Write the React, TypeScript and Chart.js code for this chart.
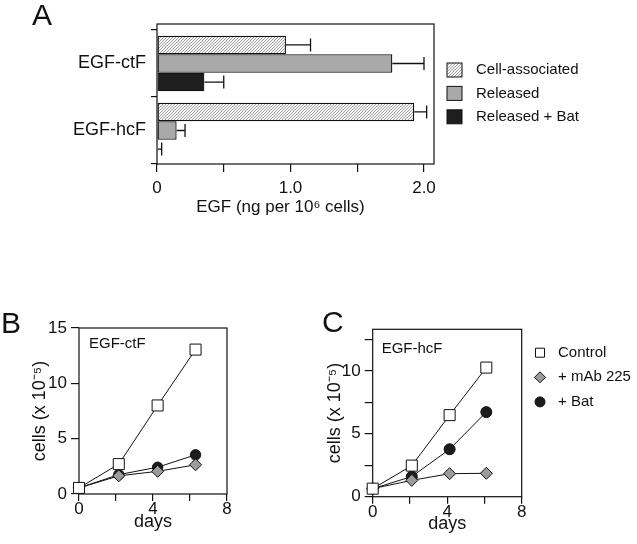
import { useEffect, useRef } from 'react';
import { Chart, registerables } from 'chart.js';

Chart.register(...registerables);

const FONT = "'Liberation Sans', Arial, Helvetica, sans-serif";
const INK = '#111111';

// ---------- Panel A : EGF (ng per 10^6 cells) ----------
const aCategories = ['EGF-ctF', 'EGF-hcF'];
const aSeries = ['Cell-associated', 'Released', 'Released + Bat'];
const aCellAssoc = [0.966, 1.927];
const aCellAssocErr = [1.15, 2.02];
const aReleased = [1.763, 0.147];
const aReleasedErr = [2.0, 0.21];
const aReleasedBat = [0.355, 0.006];
const aReleasedBatErr = [0.5, 0.035];
const aXTickLabels = ['0', '', '1.0', '', '2.0'];
const aXTitle = 'EGF (ng per 10\u2076 cells)';

// ---------- Panels B and C : cells (x 10^-5) vs days ----------
const growthSeries = ['Control', '+ mAb 225', '+ Bat'];
const bDays = [0, 2.15, 4.25, 6.3];
const bControl = [0.55, 2.7, 8.0, 13.05];
const bMab = [0.55, 1.64, 2.05, 2.64];
const bBat = [0.55, 1.75, 2.42, 3.54];
const cDays = [0, 2.1, 4.13, 6.1];
const cControl = [0.64, 2.47, 6.48, 10.26];
const cMab = [0.64, 1.3, 1.83, 1.86];
const cBat = [0.64, 1.6, 3.77, 6.72];
const dayTickLabels = ['0', '', '4', '', '8'];
const bYTickLabels = ['0', '5', '10', '15'];
const cYTickLabels = ['0', '', '5', '', '10', ''];
const growthYTitle = 'cells (x 10\u207B\u2075)';
const growthXTitle = 'days';

function hatchPattern(): any {
  const c = document.createElement('canvas');
  c.width = 3;
  c.height = 3;
  const g = c.getContext('2d')!;
  g.fillStyle = '#f4f4f4';
  g.fillRect(0, 0, 3, 3);
  g.strokeStyle = '#a4a4a4';
  g.lineWidth = 1;
  g.beginPath();
  g.moveTo(-1, 4); g.lineTo(4, -1);
  g.moveTo(-1, 1); g.lineTo(1, -1);
  g.moveTo(2, 4); g.lineTo(4, 2);
  g.stroke();
  return g.createPattern(c, 'repeat');
}

function makeFrame(extraTop: number) {
  return {
    id: 'frame',
    beforeDatasetsDraw(chart: any) {
      const { ctx, chartArea: a } = chart;
      ctx.save();
      ctx.strokeStyle = INK;
      ctx.lineWidth = 1.2;
      ctx.strokeRect(a.left, a.top - extraTop, a.right - a.left, a.bottom - a.top + extraTop);
      ctx.restore();
    },
  };
}

type TextItem = { text: string; x: number; y: number; size: number; align?: CanvasTextAlign; baseline?: CanvasTextBaseline };
function makeTexts(items: TextItem[]) {
  return {
    id: 'texts',
    afterDraw(chart: any) {
      const { ctx } = chart;
      ctx.save();
      ctx.fillStyle = INK;
      items.forEach((t) => {
        ctx.font = `${t.size}px ${FONT}`;
        ctx.textAlign = t.align || 'left';
        ctx.textBaseline = t.baseline || 'middle';
        ctx.fillText(t.text, t.x, t.y);
      });
      ctx.restore();
    },
  };
}

function makeErrorBars(errs: number[][]) {
  return {
    id: 'errorBars',
    afterDatasetsDraw(chart: any) {
      const { ctx } = chart;
      const xs = chart.scales.x;
      ctx.save();
      ctx.strokeStyle = INK;
      ctx.lineWidth = 1.3;
      chart.data.datasets.forEach((_ds: any, i: number) => {
        const meta = chart.getDatasetMeta(i);
        meta.data.forEach((el: any, j: number) => {
          const x0 = el.x;
          const y = el.y;
          const x1 = xs.getPixelForValue(errs[i][j]);
          const h = el.height * 0.7;
          ctx.beginPath();
          ctx.moveTo(x0, y);
          ctx.lineTo(x1, y);
          ctx.moveTo(x1, y - h / 2);
          ctx.lineTo(x1, y + h / 2);
          ctx.stroke();
        });
      });
      ctx.restore();
    },
  };
}

function makeBarLegend(x: number, y0: number, dy: number, bw: number, bh: number, textX: number) {
  return {
    id: 'barLegend',
    afterDraw(chart: any) {
      const { ctx } = chart;
      ctx.save();
      chart.data.datasets.forEach((ds: any, i: number) => {
        const cy = y0 + i * dy;
        ctx.fillStyle = ds.backgroundColor;
        ctx.fillRect(x, cy - bh / 2, bw, bh);
        ctx.strokeStyle = INK;
        ctx.lineWidth = 1;
        ctx.strokeRect(x, cy - bh / 2, bw, bh);
        ctx.fillStyle = INK;
        ctx.font = `15px ${FONT}`;
        ctx.textAlign = 'left';
        ctx.textBaseline = 'middle';
        ctx.fillText(ds.label, textX, cy);
      });
      ctx.restore();
    },
  };
}

function makePointLegend(x: number, y0: number, dy: number, textX: number) {
  return {
    id: 'pointLegend',
    afterDraw(chart: any) {
      const { ctx } = chart;
      ctx.save();
      chart.data.datasets.forEach((ds: any, i: number) => {
        const cy = y0 + i * dy;
        ctx.fillStyle = ds.pointBackgroundColor;
        ctx.strokeStyle = INK;
        ctx.lineWidth = 1;
        ctx.beginPath();
        if (ds.pointStyle === 'rect') {
          ctx.rect(x - 4.5, cy - 4.5, 9, 9);
        } else if (ds.pointStyle === 'rectRot') {
          ctx.moveTo(x, cy - 5.5);
          ctx.lineTo(x + 5.5, cy);
          ctx.lineTo(x, cy + 5.5);
          ctx.lineTo(x - 5.5, cy);
          ctx.closePath();
        } else {
          ctx.arc(x, cy, 5, 0, Math.PI * 2);
        }
        ctx.fill();
        ctx.stroke();
        ctx.fillStyle = INK;
        ctx.font = `15px ${FONT}`;
        ctx.textAlign = 'left';
        ctx.textBaseline = 'middle';
        ctx.fillText(ds.label, textX, cy);
      });
      ctx.restore();
    },
  };
}

function growthDatasets(days: number[], ctl: number[], mab: number[], bat: number[], sq: number, dia: number, cir: number) {
  const pts = (vals: number[]) => days.map((d, i) => ({ x: d, y: vals[i] }));
  const common = { borderColor: INK, borderWidth: 1, tension: 0, clip: false as any, pointBorderColor: INK, pointBorderWidth: 1 };
  return [
    { ...common, label: growthSeries[0], data: pts(ctl), pointStyle: 'rect', pointRadius: sq, pointBackgroundColor: '#ffffff' },
    { ...common, label: growthSeries[1], data: pts(mab), pointStyle: 'rectRot', pointRadius: dia, pointBackgroundColor: '#9b9b9b' },
    { ...common, label: growthSeries[2], data: pts(bat), pointStyle: 'circle', pointRadius: cir, pointBackgroundColor: '#1c1c1c' },
  ];
}

function growthOptions(o: { padTop: number; padRight: number; yWidth: number; xHeight: number; yMax: number; yStep: number; yLabels: string[]; yTitlePad: number; xTitlePad: number }) {
  const tickFont = { family: FONT, size: 17 };
  const titleFont = { family: FONT, size: 18 };
  return {
    responsive: false,
    animation: false,
    events: [],
    layout: { padding: { top: o.padTop, right: o.padRight, left: 0, bottom: 0 } },
    plugins: { legend: { display: false }, tooltip: { enabled: false } },
    scales: {
      x: {
        type: 'linear',
        min: 0,
        max: 8,
        afterFit: (s: any) => { s.height = o.xHeight; },
        border: { display: false },
        grid: { drawOnChartArea: false, drawTicks: true, tickLength: 7, color: INK, lineWidth: 1.2 },
        ticks: { stepSize: 2, autoSkip: false, maxRotation: 0, padding: 0, color: INK, font: { ...tickFont, lineHeight: 1 }, callback: (_v: any, i: number) => dayTickLabels[i] ?? '' },
        title: { display: true, text: growthXTitle, color: INK, font: titleFont, padding: { top: 0, bottom: o.xTitlePad } },
      },
      y: {
        type: 'linear',
        min: 0,
        max: o.yMax,
        afterFit: (s: any) => { s.width = o.yWidth; },
        border: { display: false },
        grid: { drawOnChartArea: false, drawTicks: true, tickLength: 8, color: INK, lineWidth: 1.2 },
        ticks: { stepSize: o.yStep, includeBounds: false, autoSkip: false, padding: 4, color: INK, font: tickFont, callback: (_v: any, i: number) => o.yLabels[i] ?? '' },
        title: { display: true, text: growthYTitle, color: INK, font: titleFont, padding: { top: o.yTitlePad, bottom: 0 } },
      },
    },
  };
}

export default function App() {
  const aRef = useRef<HTMLCanvasElement>(null);
  const bRef = useRef<HTMLCanvasElement>(null);
  const cRef = useRef<HTMLCanvasElement>(null);

  useEffect(() => {
    const hatch = hatchPattern();
    const barCommon = { borderColor: INK, borderWidth: 1.3, borderSkipped: false, categoryPercentage: 0.83, barPercentage: 1.0 };
    const chartA = new Chart(aRef.current!, {
      type: 'bar',
      data: {
        labels: aCategories,
        datasets: [
          { ...barCommon, label: aSeries[0], data: aCellAssoc, backgroundColor: hatch },
          { ...barCommon, label: aSeries[1], data: aReleased, backgroundColor: '#a9a9a9' },
          { ...barCommon, label: aSeries[2], data: aReleasedBat, backgroundColor: '#1e1e1e' },
        ] as any,
      },
      options: {
        indexAxis: 'y',
        responsive: false,
        animation: false,
        events: [],
        layout: { padding: { top: 30, right: 203, left: 0, bottom: 0 } },
        plugins: { legend: { display: false }, tooltip: { enabled: false } },
        scales: {
          x: {
            type: 'linear',
            min: 0,
            max: 2.075,
            afterFit: (s: any) => { s.height = 76; },
            border: { display: false },
            grid: { drawOnChartArea: false, drawTicks: true, tickLength: 8, color: INK, lineWidth: 1.2 },
            ticks: { stepSize: 0.5, includeBounds: false, autoSkip: false, maxRotation: 0, padding: 6, color: INK, font: { family: FONT, size: 17 }, callback: (_v: any, i: number) => aXTickLabels[i] ?? '' },
          },
          y: {
            type: 'category',
            afterFit: (s: any) => { s.width = 157; },
            border: { display: false },
            grid: { offset: true, drawOnChartArea: false, drawTicks: true, tickLength: 6, color: INK, lineWidth: 1.2 },
            ticks: { padding: 5, color: INK, font: { family: FONT, size: 18 } },
          },
        },
      } as any,
      plugins: [
        makeFrame(6),
        makeErrorBars([aCellAssocErr, aReleasedErr, aReleasedBatErr]),
        makeBarLegend(447, 70, 23.4, 15, 14, 476),
        makeTexts([
          { text: 'A', x: 32, y: 25, size: 30, baseline: 'alphabetic' },
          { text: aXTitle, x: 280.5, y: 207, size: 17, align: 'center' },
        ]),
      ],
    });

    const chartB = new Chart(bRef.current!, {
      type: 'line',
      data: { datasets: growthDatasets(bDays, bControl, bMab, bBat, 7.8, 6, 5.2) as any },
      options: growthOptions({ padTop: 38, padRight: 73, yWidth: 79, xHeight: 50, yMax: 15, yStep: 5, yLabels: bYTickLabels, yTitlePad: 29, xTitlePad: 11 }) as any,
      plugins: [
        makeFrame(0),
        makeTexts([
          { text: 'B', x: 1, y: 43, size: 30, baseline: 'alphabetic' },
          { text: 'EGF-ctF', x: 89, y: 54, size: 15 },
        ]),
      ],
    });

    const chartC = new Chart(cRef.current!, {
      type: 'line',
      data: { datasets: growthDatasets(cDays, cControl, cMab, cBat, 7.8, 6, 5.5) as any },
      options: growthOptions({ padTop: 39.3, padRight: 115.3, yWidth: 72.7, xHeight: 47.3, yMax: 13.3, yStep: 2.5, yLabels: cYTickLabels, yTitlePad: 24, xTitlePad: 9 }) as any,
      plugins: [
        makeFrame(0),
        makePointLegend(240, 62.7, 24.6, 258),
        makeTexts([
          { text: 'C', x: 22, y: 42, size: 30, baseline: 'alphabetic' },
          { text: 'EGF-hcF', x: 81.7, y: 59, size: 15 },
        ]),
      ],
    });

    return () => {
      chartA.destroy();
      chartB.destroy();
      chartC.destroy();
    };
  }, []);

  return (
    <div style={{ position: 'absolute', left: 0, top: 0, width: 637, height: 544, background: '#ffffff' }}>
      <canvas ref={aRef} width={637} height={240} style={{ position: 'absolute', left: 0, top: 0 }} />
      <canvas ref={bRef} width={300} height={254} style={{ position: 'absolute', left: 0, top: 290 }} />
      <canvas ref={cRef} width={337} height={254} style={{ position: 'absolute', left: 300, top: 290 }} />
    </div>
  );
}
